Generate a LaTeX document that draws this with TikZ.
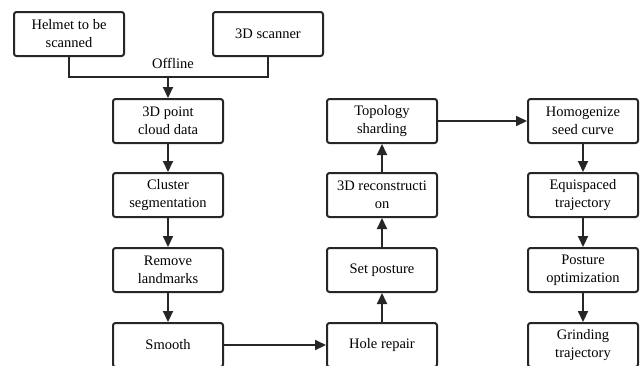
\documentclass[tikz,border=0pt]{standalone}
\usepackage{fontspec}
\setmainfont{Liberation Serif}
\usepackage{tikz}
\usetikzlibrary{calc,arrows.meta}

\begin{document}
\begin{tikzpicture}[x=1pt,y=-1pt,line width=2pt,color=black!85,
	every node/.style={font=\fontsize{14.5}{18}\selectfont,text=black},
	box/.style={draw,rounded corners=2.5pt,minimum width=110pt,minimum height=44pt,align=center,inner sep=2pt},
	arr/.style={-{Triangle[length=11pt,width=10pt]}}]
				\useasboundingbox (0,0) rectangle (644,365);
				%inputs placed by hand
				\node[box] (helmet) at (69,34){Helmet to be\\scanned};
				\node[box] (scanner) at (268,34){3D scanner};
				\coordinate (join) at (168,77);
				\node (offline) at (173,63){Offline};
				%% left column
				\node[box] (pcd) at (168,121){3D point\\cloud data};
				\node[box] (cluster) at (168,195){Cluster\\segmentation};
				\node[box] (landmarks) at (168,270){Remove\\landmarks};
				\node[box] (smooth) at (168,345){Smooth};
				%% middle column
				\node[box] (hole) at (382,345){Hole repair};
				\node[box] (posture) at (382,270){Set posture};
				\node[box] (recon) at (382,195){3D reconstructi\\on};
				\node[box] (topo) at (382,121){Topology\\sharding};
				%% right column
				\node[box] (homog) at (583,121){Homogenize\\seed curve};
				\node[box] (equi) at (583,195){Equispaced\\trajectory};
				\node[box] (postopt) at (583,270){Posture\\optimization};
				\node[box] (grind) at (583,345){Grinding\\trajectory};
				%% merge the two inputs
				\draw (helmet.south) |- (join) -| (scanner.south);
				\draw[arr] (join) -- (pcd);
				%% vertical arrows drawn with a loop
				\foreach \a/\b in {pcd/cluster,cluster/landmarks,landmarks/smooth,hole/posture,posture/recon,recon/topo,homog/equi,equi/postopt,postopt/grind}{
					\draw[arr] (\a) -- (\b);
					}
				%% horizontal arrows
				\draw[arr] (smooth) -- (hole);
				\draw[arr] (topo) -- (homog);
\end{tikzpicture}
\end{document}
